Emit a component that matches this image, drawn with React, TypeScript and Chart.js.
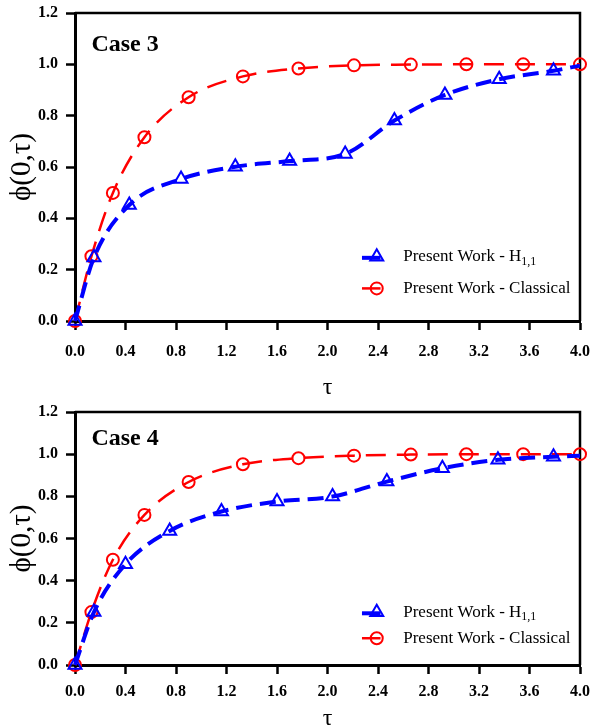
import React, { useEffect, useRef } from "react";
import { Chart, registerables } from "chart.js";

Chart.register(...registerables);

// ---------- data ----------
const X_TICKS = [0, 0.4, 0.8, 1.2, 1.6, 2.0, 2.4, 2.8, 3.2, 3.6, 4.0];
const Y_TICKS = [0, 0.2, 0.4, 0.6, 0.8, 1.0, 1.2];

// Case 3
const CASE3_H_TAU = [0, 0.15, 0.43, 0.84, 1.27, 1.7, 2.14, 2.53, 2.93, 3.36, 3.79, 4.0];
const CASE3_H_PHI = [0, 0.247, 0.452, 0.553, 0.601, 0.623, 0.651, 0.781, 0.881, 0.942, 0.975, 0.995];
const CASE3_C_TAU = [0, 0.13, 0.3, 0.55, 0.9, 1.33, 1.77, 2.21, 2.66, 3.1, 3.55, 4.0];
const CASE3_C_PHI = [0, 0.252, 0.499, 0.716, 0.872, 0.953, 0.984, 0.996, 0.999, 1.0, 1.0, 1.0];

// Case 4
const CASE4_H_TAU = [0, 0.15, 0.4, 0.75, 1.16, 1.6, 2.04, 2.47, 2.91, 3.35, 3.79, 4.0];
const CASE4_H_PHI = [0, 0.251, 0.478, 0.636, 0.728, 0.775, 0.799, 0.87, 0.933, 0.973, 0.988, 0.993];
const CASE4_C_TAU = [0, 0.13, 0.3, 0.55, 0.9, 1.33, 1.77, 2.21, 2.66, 3.1, 3.55, 4.0];
const CASE4_C_PHI = [0, 0.251, 0.499, 0.712, 0.868, 0.952, 0.981, 0.993, 0.998, 1.0, 1.0, 1.0];

const LEGEND_H_MAIN = "Present Work - H";
const LEGEND_H_SUB = "1,1";
const LEGEND_C = "Present Work - Classical";
const X_TITLE = "τ";
const Y_TITLE = "ϕ(0,τ)";

const FONT = "'Times New Roman', 'Liberation Serif', Tinos, serif";
const BLUE = "#0000ff";
const RED = "#ff0000";

function drawTriangle(ctx: CanvasRenderingContext2D, x: number, y: number, r: number) {
  let rad = 0;
  const T = (2 * Math.PI) / 3;
  ctx.beginPath();
  ctx.moveTo(x + Math.sin(rad) * r, y - Math.cos(rad) * r);
  rad += T;
  ctx.lineTo(x + Math.sin(rad) * r, y - Math.cos(rad) * r);
  rad += T;
  ctx.lineTo(x + Math.sin(rad) * r, y - Math.cos(rad) * r);
  ctx.closePath();
  ctx.stroke();
}

type Props = {
  caseLabel: string;
  hTau: number[];
  hPhi: number[];
  cTau: number[];
  cPhi: number[];
  height: number;
  areaTop: number;
  areaBottom: number;
  xTickPad: number;
  xTitlePad: number;
};

function PhiChart(p: Props) {
  const ref = useRef<HTMLCanvasElement>(null);
  useEffect(() => {
    const canvas = ref.current!;
    const overlay = {
      id: "overlay",
      beforeDatasetsDraw(chart: any) {
        const { ctx, chartArea: a } = chart;
        ctx.save();
        ctx.strokeStyle = "#000";
        ctx.lineWidth = 2.5;
        ctx.beginPath();
        ctx.moveTo(a.left, a.top);
        ctx.lineTo(a.right, a.top);
        ctx.lineTo(a.right, a.bottom);
        ctx.stroke();
        ctx.restore();
      },
      afterDatasetsDraw(chart: any) {
        const { ctx } = chart;
        const xs = chart.scales.x;
        const ys = chart.scales.y;
        ctx.save();
        // case label
        ctx.fillStyle = "#000";
        ctx.font = `bold 24px ${FONT}`;
        ctx.textBaseline = "middle";
        ctx.textAlign = "left";
        ctx.fillText(p.caseLabel, xs.getPixelForValue(0.13), ys.getPixelForValue(1.075));

        // legend
        const lx0 = xs.getPixelForValue(2.273);
        const lx1 = xs.getPixelForValue(2.42);
        const mx = xs.getPixelForValue(2.39);
        const tx = xs.getPixelForValue(2.6);
        const y1 = ys.getPixelForValue(0.25);
        const y2 = ys.getPixelForValue(0.127);

        ctx.setLineDash([]);
        ctx.strokeStyle = BLUE;
        ctx.lineWidth = 4;
        ctx.beginPath();
        ctx.moveTo(lx0, y1 + 1);
        ctx.lineTo(lx1, y1 + 1);
        ctx.stroke();
        ctx.lineWidth = 2;
        drawTriangle(ctx, mx, y1, 7.5);

        ctx.strokeStyle = RED;
        ctx.lineWidth = 2.5;
        ctx.beginPath();
        ctx.moveTo(lx0, y2);
        ctx.lineTo(lx1, y2);
        ctx.stroke();
        ctx.lineWidth = 2;
        ctx.beginPath();
        ctx.arc(mx, y2, 6, 0, Math.PI * 2);
        ctx.stroke();

        ctx.fillStyle = "#000";
        ctx.font = `17px ${FONT}`;
        ctx.fillText(LEGEND_H_MAIN, tx, y1);
        const w = ctx.measureText(LEGEND_H_MAIN).width;
        ctx.font = `12px ${FONT}`;
        ctx.fillText(LEGEND_H_SUB, tx + w, y1 + 5);
        ctx.font = `17px ${FONT}`;
        ctx.fillText(LEGEND_C, tx, y2);
        ctx.restore();
      },
    };

    const tickFont = { family: FONT, weight: "bold" as const, size: 16 };
    const chart = new Chart(canvas, {
      type: "line",
      data: {
        datasets: [
          {
            label: LEGEND_H_MAIN + LEGEND_H_SUB,
            data: p.hTau.map((t, i) => ({ x: t, y: p.hPhi[i] })),
            borderColor: BLUE,
            backgroundColor: "transparent",
            borderWidth: 4,
            borderDash: [16, 8],
            pointStyle: "triangle",
            pointRadius: p.hTau.map((_, i) => (i === p.hTau.length - 1 ? 0 : 7.5)),
            pointBorderWidth: 2,
            pointBorderColor: BLUE,
            pointBackgroundColor: "transparent",
            cubicInterpolationMode: "monotone",
            clip: false as any,
          },
          {
            label: LEGEND_C,
            data: p.cTau.map((t, i) => ({ x: t, y: p.cPhi[i] })),
            borderColor: RED,
            backgroundColor: "transparent",
            borderWidth: 2.5,
            borderDash: [20, 11],
            pointStyle: "circle",
            pointRadius: 6,
            pointBorderWidth: 2,
            pointBorderColor: RED,
            pointBackgroundColor: "transparent",
            cubicInterpolationMode: "monotone",
            clip: false as any,
          },
        ],
      },
      options: {
        animation: false,
        responsive: false,
        maintainAspectRatio: false,
        devicePixelRatio: 1,
        layout: { padding: { top: p.areaTop, right: 13, left: 0, bottom: 0 } },
        plugins: { legend: { display: false }, tooltip: { enabled: false } },
        scales: {
          x: {
            type: "linear",
            min: 0,
            max: 4,
            afterBuildTicks: (s: any) => {
              s.ticks = X_TICKS.map((v) => ({ value: v }));
            },
            afterFit: (s: any) => {
              s.height = p.height - p.areaBottom;
              s.paddingLeft = 0;
              s.paddingRight = 0;
            },
            grid: {
              display: true,
              drawOnChartArea: false,
              drawTicks: true,
              tickLength: 9,
              tickWidth: 2.5,
              tickColor: "#000",
            },
            border: { display: true, width: 3, color: "#000" },
            ticks: {
              color: "#000",
              font: tickFont,
              padding: p.xTickPad,
              maxRotation: 0,
              autoSkip: false,
              callback: (v: any) => Number(v).toFixed(1),
            },
            title: {
              display: true,
              text: X_TITLE,
              color: "#000",
              font: { family: FONT, size: 24, lineHeight: 1 },
              padding: { top: 0, bottom: p.xTitlePad },
            },
          },
          y: {
            type: "linear",
            min: 0,
            max: 1.2,
            afterBuildTicks: (s: any) => {
              s.ticks = Y_TICKS.map((v) => ({ value: v }));
            },
            afterFit: (s: any) => {
              s.width = 75;
              s.paddingTop = 0;
              s.paddingBottom = 0;
            },
            grid: {
              display: true,
              drawOnChartArea: false,
              drawTicks: true,
              tickLength: 9,
              tickWidth: 2.5,
              tickColor: "#000",
            },
            border: { display: true, width: 3, color: "#000" },
            ticks: {
              color: "#000",
              font: tickFont,
              padding: 8,
              autoSkip: false,
              callback: (v: any) => Number(v).toFixed(1),
            },
            title: {
              display: true,
              text: Y_TITLE,
              color: "#000",
              font: { family: FONT, size: 29, lineHeight: 1 },
              padding: { top: 8, bottom: 0 },
            },
          },
        },
      } as any,
      plugins: [overlay],
    });
    return () => chart.destroy();
  }, []);
  return (
    <canvas
      ref={ref}
      width={593}
      height={p.height}
      style={{ display: "block", width: 593, height: p.height }}
    />
  );
}

export default function App() {
  return (
    <div
      style={{
        position: "fixed",
        left: 0,
        top: 0,
        width: 593,
        height: 727,
        overflow: "hidden",
        background: "#fff",
      }}
    >
      <div style={{ position: "absolute", left: 0, top: 0 }}>
        <PhiChart
          caseLabel="Case 3"
          hTau={CASE3_H_TAU}
          hPhi={CASE3_H_PHI}
          cTau={CASE3_C_TAU}
          cPhi={CASE3_C_PHI}
          height={400}
          areaTop={13}
          areaBottom={321}
          xTickPad={12}
          xTitlePad={0}
        />
      </div>
      <div style={{ position: "absolute", left: 0, top: 400 }}>
        <PhiChart
          caseLabel="Case 4"
          hTau={CASE4_H_TAU}
          hPhi={CASE4_H_PHI}
          cTau={CASE4_C_TAU}
          cPhi={CASE4_C_PHI}
          height={335}
          areaTop={12}
          areaBottom={265}
          xTickPad={8}
          xTitlePad={4}
        />
      </div>
    </div>
  );
}
